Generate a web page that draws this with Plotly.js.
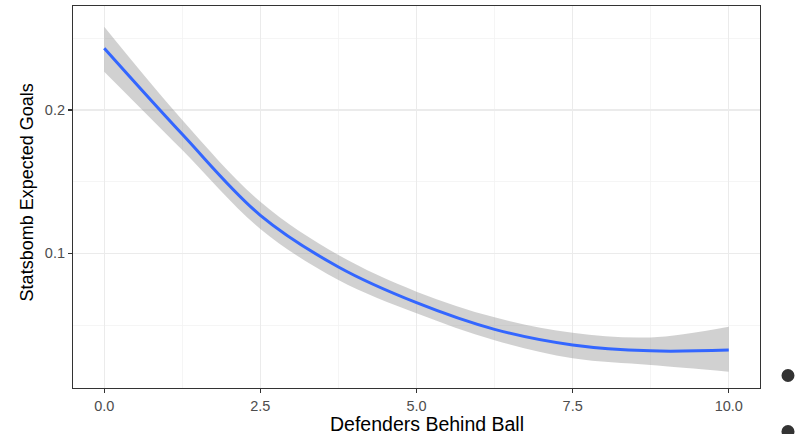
<!DOCTYPE html>
<html>
<head>
<meta charset="utf-8">
<script src="https://cdn.plot.ly/plotly-3.0.1.min.js"></script>
<style>html,body{margin:0;padding:0;background:#fff;}#chart{width:798px;height:434px;}</style>
</head>
<body>
<div id="chart"></div>
<script>
// Defenders behind ball (x) and smoothed Statsbomb xG with confidence band
const defenders = [0, 1.25, 2.5, 3.75, 5, 6.25, 7.5, 8.75, 10];
const xgFit   = [0.243, 0.183, 0.1265, 0.0905, 0.0656, 0.047, 0.0361, 0.032, 0.0326];
const xgUpper = [0.258, 0.193, 0.136, 0.0988, 0.0733, 0.0554, 0.0447, 0.0414, 0.0489];
const xgLower = [0.2267, 0.172, 0.117, 0.0814, 0.0582, 0.0394, 0.0268, 0.0221, 0.0175];
const xTickVals = [0, 2.5, 5, 7.5, 10];
const xTickText = ["0.0", "2.5", "5.0", "7.5", "10.0"];
const yTickVals = [0.1, 0.2];
const yTickText = ["0.1", "0.2"];
const xTitle = 'Defenders Behind Ball';
const yTitle = 'Statsbomb Expected Goals';

const traces = [
  {x: defenders, y: xgLower, mode: 'lines', line: {width: 0, shape: 'spline'}, hoverinfo: 'skip', showlegend: false},
  {x: defenders, y: xgUpper, mode: 'lines', line: {width: 0, shape: 'spline'}, fill: 'tonexty',
   fillcolor: 'rgba(153,153,153,0.45)', hoverinfo: 'skip', showlegend: false},
  {x: defenders, y: xgFit, mode: 'lines', line: {color: '#3366FF', width: 3, shape: 'spline'}, showlegend: false}
];

const fam = '"Liberation Sans", Arial, sans-serif';
const layout = {
  width: 798, height: 434,
  margin: {l: 73, r: 38, t: 6, b: 46},
  paper_bgcolor: '#fff', plot_bgcolor: '#fff',
  font: {family: fam},
  showlegend: false,
  xaxis: {
    range: [-0.5, 10.5],
    tickvals: xTickVals, ticktext: xTickText,
    ticks: 'outside', ticklen: 4, tickwidth: 1.1, tickcolor: '#333',
    tickfont: {size: 14.5, color: '#4D4D4D', family: fam},
    showgrid: true, gridcolor: '#EBEBEB', gridwidth: 1.1,
    minor: {tickvals: [1.25, 3.75, 6.25, 8.75], showgrid: true, gridcolor: '#F2F2F2', gridwidth: 0.8, ticks: ''},
    zeroline: false,
    showline: true, mirror: true, linecolor: '#333', linewidth: 1.1
  },
  yaxis: {
    range: [0.0061, 0.2725],
    tickvals: yTickVals, ticktext: yTickText,
    ticks: 'outside', ticklen: 4, tickwidth: 1.1, tickcolor: '#333',
    tickfont: {size: 14.5, color: '#4D4D4D', family: fam},
    showgrid: true, gridcolor: '#EBEBEB', gridwidth: 1.1,
    minor: {tickvals: [0.05, 0.15, 0.25], showgrid: true, gridcolor: '#F2F2F2', gridwidth: 0.8, ticks: ''},
    zeroline: false,
    showline: true, mirror: true, linecolor: '#333', linewidth: 1.1
  },
  annotations: [
    {text: xTitle, xref: 'paper', yref: 'paper', x: 0.515, y: -0.093, xanchor: 'center', yanchor: 'middle',
     showarrow: false, font: {size: 19.5, color: '#000', family: fam}},
    {text: yTitle, xref: 'paper', yref: 'paper', x: -0.067, y: 0.512, xanchor: 'center', yanchor: 'middle',
     textangle: -90, showarrow: false, font: {size: 18, color: '#000', family: fam}}
  ],
  shapes: [
    {type: 'circle', xref: 'paper', yref: 'paper', x0: 1.0313, x1: 1.0502, y0: 0.0157, y1: 0.0497, fillcolor: '#333', line: {width: 0}},
    {type: 'circle', xref: 'paper', yref: 'paper', x0: 1.0313, x1: 1.0502, y0: -0.1309, y1: -0.0969, fillcolor: '#333', line: {width: 0}}
  ]
};

Plotly.newPlot('chart', traces, layout, {displayModeBar: false, staticPlot: true});
</script>
</body>
</html>
